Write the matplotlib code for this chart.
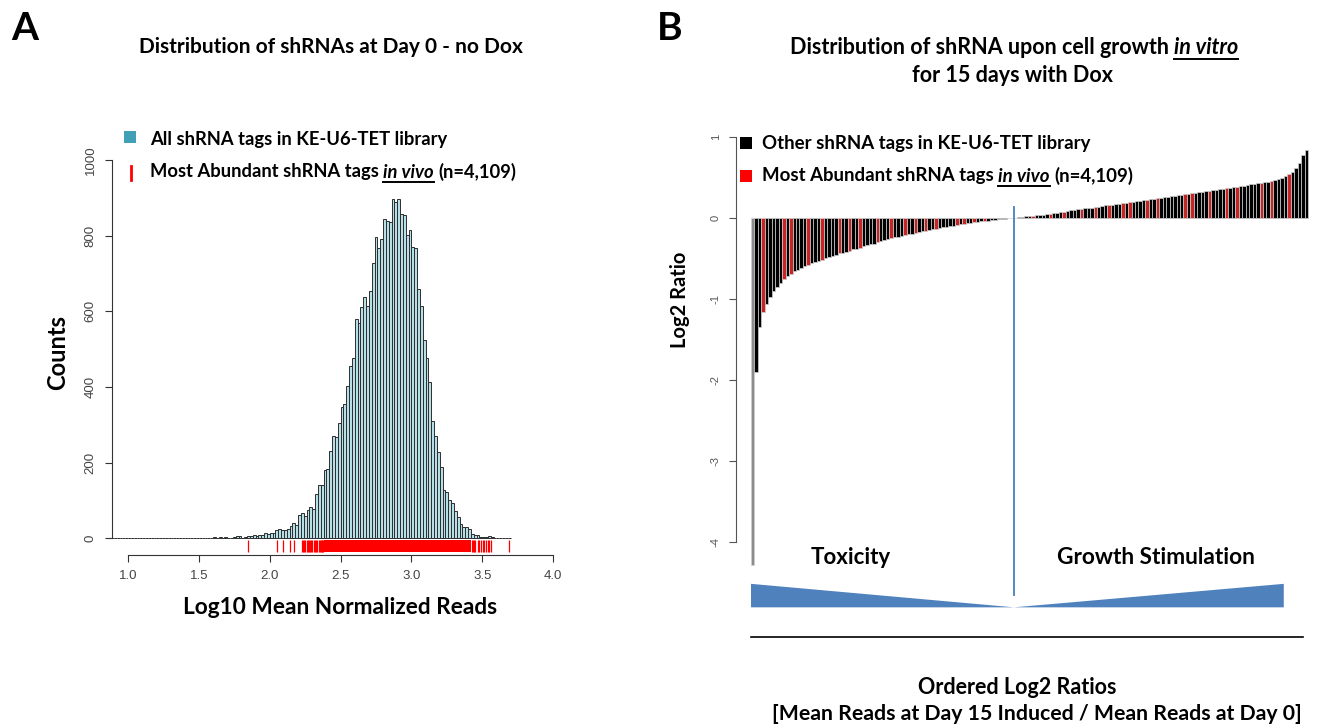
"""
shRNA distributions: day-0 histogram (A) and ordered log2 ratios after 15 days (B)
"""

import numpy as np
import matplotlib
matplotlib.use("Agg")
import matplotlib.pyplot as plt
from matplotlib.lines import Line2D
from matplotlib.patches import Rectangle

# ---- panel A data: histogram of log10 mean normalized reads (bin width 0.02)
bin_start = 0.88
bin_width = 0.02
counts = [
    1, 0, 0, 0, 0, 0, 0, 0, 0, 0, 0, 0, 0, 0, 0,
    2, 1, 0, 0, 0, 0, 0, 0, 0, 0,
    2, 1, 0, 0, 0, 0, 0, 0,
    1, 2, 2, 4, 2, 3, 2, 4, 1, 0,
    3, 6, 5, 2, 4, 5, 7, 8, 6, 10,
    9, 15, 12, 13, 14, 22, 26, 22, 21, 25,
    33, 41, 35, 62, 66, 60, 76, 82, 78, 118,
    140, 140, 180, 182, 232, 271, 267, 306, 348, 355,
    403, 456, 478, 580, 568, 612, 637, 614, 655, 728,
    797, 768, 790, 843, 838, 836, 898, 888, 897, 858,
    854, 802, 814, 769, 767, 658, 615, 524, 476, 412,
    309, 271, 228, 188, 129, 123, 101, 94, 72, 57,
    38, 31, 29, 24, 11, 10, 8, 4, 3, 4,
    7, 4, 2, 1, 0, 0, 0, 1,
]
# rug of the most abundant in vivo tags: single ticks plus the solid band
rug_ticks = [1.845, 2.049, 2.096, 2.143, 2.174, 2.228, 2.236, 2.245, 2.252,
             2.262, 2.270, 2.279, 2.285, 2.294, 2.300, 2.310, 2.318, 2.326,
             2.334, 2.345, 2.352, 2.360, 2.366, 2.372, 2.378, 3.428, 3.436,
             3.445, 3.452, 3.470, 3.478, 3.490, 3.505, 3.512, 3.528, 3.540,
             3.548, 3.565, 3.687]
rug_band = [2.384, 3.422]
xticks_a = [1.0, 1.5, 2.0, 2.5, 3.0, 3.5, 4.0]
yticks_a = [0, 200, 400, 600, 800, 1000]

# ---- panel B data: ordered log2 ratios (day 15 induced / day 0)
ratios_neg = [
    -4.29, -1.90, -1.35, -1.17, -1.07, -0.98, -0.91, -0.85, -0.80, -0.76,
    -0.72, -0.69, -0.66, -0.64, -0.62, -0.60, -0.58, -0.56, -0.55, -0.53,
    -0.52, -0.50, -0.48, -0.47, -0.46, -0.44, -0.43, -0.42, -0.41, -0.39,
    -0.38, -0.37, -0.355, -0.34, -0.33, -0.32, -0.305, -0.29, -0.28, -0.265,
    -0.25, -0.24, -0.235, -0.225, -0.215, -0.205, -0.20, -0.19, -0.18, -0.17,
    -0.165, -0.155, -0.145, -0.14, -0.13, -0.12, -0.115, -0.105, -0.10, -0.09,
    -0.08, -0.075, -0.068, -0.06, -0.055, -0.05, -0.045, -0.04, -0.035, -0.03,
    -0.025, -0.02, -0.015, -0.01, -0.006, -0.002,
]
ratios_pos = [
    0.002, 0.006, 0.011, 0.016, 0.020, 0.026, 0.030, 0.034, 0.039, 0.045,
    0.051, 0.057, 0.063, 0.070, 0.076, 0.082, 0.090, 0.096, 0.102, 0.108,
    0.114, 0.120, 0.126, 0.132, 0.138, 0.145, 0.151, 0.157, 0.162, 0.168,
    0.174, 0.180, 0.185, 0.190, 0.197, 0.203, 0.210, 0.216, 0.222, 0.228,
    0.234, 0.240, 0.246, 0.252, 0.258, 0.264, 0.270, 0.276, 0.282, 0.288,
    0.294, 0.300, 0.306, 0.313, 0.320, 0.327, 0.333, 0.339, 0.345, 0.351,
    0.357, 0.363, 0.369, 0.376, 0.383, 0.390, 0.397, 0.404, 0.411, 0.418,
    0.425, 0.430, 0.437, 0.445, 0.455, 0.467, 0.480, 0.495, 0.515, 0.540,
    0.570, 0.610, 0.670, 0.780, 0.840,
]
red_neg = [3, 9, 11, 16, 20, 25, 28, 31, 36, 40, 44, 47, 50, 53, 59, 61, 64, 67]
red_pos = [5, 10, 14, 19, 23, 27, 31, 33, 38, 41, 49, 51, 56, 61, 64, 71, 74, 79]
yticks_b = [-4, -3, -2, -1, 0, 1]

W, H = 1318, 726
FONT = ["Lato", "DejaVu Sans"]
TICKFONT = ["Liberation Sans", "DejaVu Sans"]
BLUE = "#4f81bd"

fig = plt.figure(figsize=(W / 100, H / 100), dpi=100)
renderer = fig.canvas.get_renderer()


def px_box(l, t, r, b):
    return [l / W, 1 - b / H, (r - l) / W, (b - t) / H]


def ftext(x, y, s, size, **kw):
    kw.setdefault("ha", "center")
    kw.setdefault("va", "center")
    kw.setdefault("fontweight", "bold")
    return fig.text(x / W, 1 - y / H, s, fontsize=size, family=FONT, **kw)


def text_width(s, **kw):
    t = fig.text(0, 0, s, **kw)
    w = t.get_window_extent(renderer).width
    t.remove()
    return w


def rich(x, y, parts, size, ha="left"):
    # parts: (text, italic, underline)
    base = dict(fontsize=size, fontweight="bold", family=FONT)
    gap = text_width("a a", **base) - text_width("aa", **base)
    widths = [text_width(s, fontstyle="italic" if it else "normal", **base)
              for s, it, ul in parts]
    total = sum(widths) + gap * (len(parts) - 1)
    x0 = x - total / 2 if ha == "center" else x
    for (s, it, ul), w in zip(parts, widths):
        fig.text(x0 / W, 1 - y / H, s, ha="left", va="center",
                 fontstyle="italic" if it else "normal", **base)
        if ul:
            yu = 1 - (y + size * 0.78) / H
            fig.add_artist(Line2D([x0 / W, (x0 + w) / W], [yu, yu],
                                  transform=fig.transFigure, color="black", lw=1.4))
        x0 += w + gap


# ================= panel A =================
axA = fig.add_axes(px_box(112, 160, 553, 555))
edges = bin_start + bin_width * np.arange(len(counts))
axA.bar(edges, counts, width=bin_width, align="edge", color="#b7dfe8",
        edgecolor="#2e2e2e", linewidth=0.7)
axA.vlines(rug_ticks, -36, -5, color="red", lw=0.9)
axA.fill_between(rug_band, -36, -5, color="red", linewidth=0)

axA.set_xlim(0.887, 4.0)
axA.set_ylim(-44, 1000)
for s in ["top", "right"]:
    axA.spines[s].set_visible(False)
axA.spines["left"].set_bounds(0, 1000)
axA.spines["bottom"].set_bounds(1.0, 4.0)
for s in ["left", "bottom"]:
    axA.spines[s].set_color("#333333")
    axA.spines[s].set_linewidth(0.8)
axA.set_xticks(xticks_a)
axA.set_xticklabels([f"{v:.1f}" for v in xticks_a], family=TICKFONT)
axA.set_yticks(yticks_a)
axA.set_yticklabels([str(v) for v in yticks_a], rotation=90, va="center",
                    family=TICKFONT)
axA.tick_params(length=5, width=0.8, color="#333333", labelcolor="#444444",
                labelsize=9.5, pad=6)

ftext(25, 28, "A", 28, ha="center")
ftext(331, 47, "Distribution of shRNAs at Day 0 - no Dox", 15)
ftext(58, 352, "Counts", 17, rotation=90)
ftext(340, 608, "Log10 Mean Normalized Reads", 16.3)

fig.add_artist(Rectangle((124 / W, 1 - 143 / H), 12 / W, 12 / H,
                         transform=fig.transFigure, color="#41a0b5", lw=0))
fig.add_artist(Line2D([131 / W, 131 / W], [1 - 166 / H, 1 - 180 / H],
                      transform=fig.transFigure, color="red", lw=2))
rich(150, 139, [("All shRNA tags in KE-U6-TET library", False, False)], 13.2)
rich(150, 172, [("Most Abundant shRNA tags", False, False),
                ("in vivo", True, True), ("(n=4,109)", False, False)], 13.2)

# ================= panel B =================
axB = fig.add_axes(px_box(736, 130, 1310, 645))
ratios = ratios_neg + ratios_pos
n_neg = len(ratios_neg)
is_red = [i in red_neg for i in range(n_neg)] + \
         [j in red_pos for j in range(len(ratios_pos))]
bar_colors = ["#c92424" if r else "black" for r in is_red]
bar_colors[0] = "#8c8c8c"  # the single extreme tag shows as a thin grey line
xb = np.arange(len(ratios))
axB.bar(xb, ratios, width=1.0, color=bar_colors, edgecolor="#d0d0d0",
        linewidth=0.5)

axB.set_xlim(-4.84, len(ratios) + 0.08)
axB.set_ylim(-5.275, 1.083)
for s in ["top", "right", "bottom"]:
    axB.spines[s].set_visible(False)
axB.spines["left"].set_bounds(-4, 1)
axB.spines["left"].set_color("#555555")
axB.spines["left"].set_linewidth(0.8)
axB.set_xticks([])
axB.set_yticks(yticks_b)
axB.set_yticklabels([str(v) for v in yticks_b], rotation=90, va="center",
                    family=TICKFONT)
axB.tick_params(axis="y", length=5, width=0.8, color="#555555",
                labelcolor="#555555", labelsize=8, pad=6)

mid = n_neg - 0.5
right_end = len(ratios) - 7.5
axB.plot([mid, mid], [0.13, -4.66], color="#4a7ebb", lw=1.3, clip_on=False)
axB.fill([-0.5, mid, -0.5], [-4.52, -4.81, -4.81], color=BLUE, lw=0)
axB.fill([mid, right_end, right_end], [-4.81, -4.52, -4.81], color=BLUE, lw=0)
axB.plot([-0.5, len(ratios) - 2], [-5.18, -5.18], color="black", lw=1.2,
         clip_on=False)

ftext(670, 28, "B", 28, ha="center")
rich(1014, 47, [("Distribution of shRNA upon cell growth", False, False),
                ("in vitro", True, True)], 15.5, ha="center")
ftext(1012, 75, "for 15 days with Dox", 15.5)
ftext(680, 300, "Log2 Ratio", 14.5, rotation=90)
ftext(851, 558, "Toxicity", 16)
ftext(1156, 558, "Growth Stimulation", 16.3)
ftext(1017, 688, "Ordered Log2 Ratios", 15.5)
ftext(1037, 714, "[Mean Reads at Day 15 Induced / Mean Reads at Day 0]", 15.3)

fig.add_artist(Rectangle((740 / W, 1 - 149 / H), 12 / W, 12 / H,
                         transform=fig.transFigure, color="black", lw=0))
fig.add_artist(Rectangle((740 / W, 1 - 182 / H), 12 / W, 12 / H,
                         transform=fig.transFigure, color="red", lw=0))
rich(762, 143, [("Other shRNA tags in KE-U6-TET library", False, False)], 13.4)
rich(762, 176, [("Most Abundant shRNA tags", False, False),
                ("in vivo", True, True), ("(n=4,109)", False, False)], 13.4)

fig.savefig("out.png", dpi=100)
